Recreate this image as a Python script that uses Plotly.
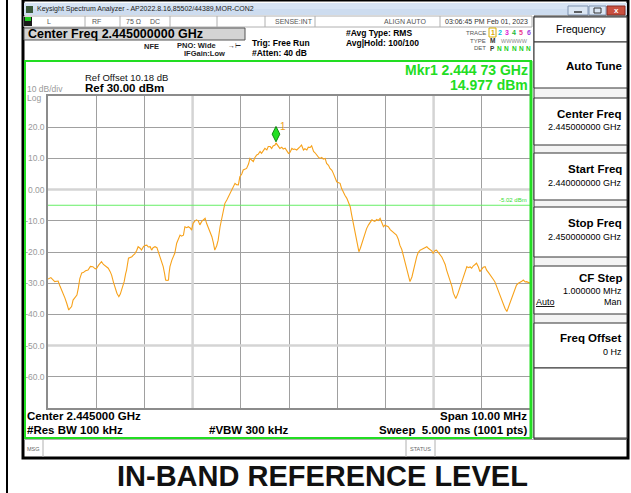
import plotly.graph_objects as go

W, H = 631, 493
FONT = "Liberation Sans, Arial, sans-serif"

# ---------------- data ----------------
start_mhz = 2440.0
stop_mhz = 2450.0
ref_level_dbm = 30.0
bottom_level_dbm = -70.0
display_line_dbm = -5.02
mkr_freq_mhz = 2444.73
mkr_level_dbm = 14.977

offset_mhz = [
    0.00, 0.06, 0.14, 0.21, 0.25, 0.31, 0.35, 0.39, 0.43, 0.46,
    0.49, 0.52, 0.56, 0.60, 0.63, 0.66, 0.70, 0.73, 0.78, 0.83,
    0.88, 0.93, 0.98, 1.01, 1.05, 1.08, 1.11, 1.15, 1.18, 1.22,
    1.25, 1.29, 1.32, 1.36, 1.39, 1.43, 1.45, 1.47, 1.50, 1.53,
    1.56, 1.58, 1.61, 1.63, 1.67, 1.70, 1.74, 1.77, 1.80, 1.84,
    1.87, 1.91, 1.94, 1.98, 2.01, 2.05, 2.08, 2.12, 2.15, 2.18,
    2.22, 2.26, 2.29, 2.32, 2.36, 2.39, 2.42, 2.44, 2.47, 2.50,
    2.51, 2.53, 2.57, 2.60, 2.63, 2.67, 2.70, 2.74, 2.77, 2.81,
    2.84, 2.88, 2.91, 2.95, 2.98, 3.01, 3.05, 3.08, 3.12, 3.15,
    3.19, 3.22, 3.26, 3.29, 3.33, 3.36, 3.40, 3.43, 3.46, 3.50,
    3.53, 3.57, 3.60, 3.62, 3.65, 3.67, 3.71, 3.74, 3.78, 3.81,
    3.84, 3.88, 3.91, 3.95, 3.98, 4.02, 4.05, 4.09, 4.12, 4.16,
    4.19, 4.23, 4.26, 4.29, 4.33, 4.36, 4.40, 4.43, 4.47, 4.50,
    4.54, 4.57, 4.61, 4.64, 4.67, 4.71, 4.73, 4.78, 4.81, 4.85,
    4.88, 4.92, 4.95, 4.99, 5.02, 5.06, 5.09, 5.12, 5.16, 5.19,
    5.23, 5.26, 5.30, 5.33, 5.37, 5.40, 5.44, 5.47, 5.51, 5.54,
    5.57, 5.61, 5.64, 5.68, 5.71, 5.75, 5.78, 5.82, 5.85, 5.89,
    5.92, 5.95, 5.99, 6.02, 6.06, 6.09, 6.13, 6.16, 6.20, 6.23,
    6.27, 6.30, 6.33, 6.35, 6.38, 6.40, 6.43, 6.45, 6.48, 6.51,
    6.54, 6.58, 6.61, 6.65, 6.68, 6.72, 6.75, 6.78, 6.82, 6.85,
    6.89, 6.92, 6.96, 6.99, 7.03, 7.06, 7.10, 7.13, 7.16, 7.20,
    7.23, 7.27, 7.30, 7.34, 7.37, 7.41, 7.44, 7.48, 7.51, 7.55,
    7.58, 7.61, 7.65, 7.68, 7.72, 7.75, 7.79, 7.82, 7.86, 7.89,
    7.93, 7.96, 7.99, 8.03, 8.06, 8.10, 8.13, 8.17, 8.20, 8.24,
    8.27, 8.31, 8.34, 8.38, 8.41, 8.44, 8.46, 8.50, 8.53, 8.55,
    8.59, 8.62, 8.65, 8.69, 8.72, 8.76, 8.79, 8.82, 8.86, 8.89,
    8.93, 8.96, 9.00, 9.03, 9.07, 9.10, 9.14, 9.17, 9.21, 9.24,
    9.27, 9.31, 9.34, 9.38, 9.41, 9.45, 9.48, 9.52, 9.55, 9.58,
    9.62, 9.65, 9.69, 9.72, 9.76, 9.79, 9.83, 9.86, 9.90, 9.93,
    9.97, 10.00,
]
level_dbm = [
    -28.7, -28.2, -29.5, -29.3, -31.0, -33.0, -34.7, -36.5, -38.6, -38.0,
    -37.5, -35.4, -34.6, -33.8, -31.5, -28.5, -26.7, -26.6, -26.0, -25.8,
    -24.6, -24.7, -25.4, -25.2, -24.2, -23.5, -23.1, -24.0, -24.4, -25.0,
    -25.2, -26.3, -27.4, -29.8, -31.5, -33.2, -33.8, -34.3, -33.5, -32.2,
    -30.8, -29.5, -27.0, -25.8, -22.0, -21.8, -21.5, -21.0, -20.6, -19.5,
    -18.3, -18.8, -19.4, -18.3, -17.9, -17.8, -18.4, -18.3, -19.4, -18.6,
    -18.3, -18.6, -20.0, -21.5, -23.0, -24.7, -27.0, -29.0, -29.1, -29.0,
    -27.0, -24.7, -22.6, -21.5, -20.4, -17.2, -15.8, -14.6, -14.9, -14.6,
    -11.9, -12.2, -11.9, -12.3, -13.0, -10.8, -10.0, -9.7, -10.1, -11.3,
    -10.2, -9.7, -9.2, -10.8, -12.4, -13.8, -15.1, -17.0, -19.4, -18.0,
    -16.2, -11.9, -9.5, -7.6, -5.0, -4.4, -3.3, -2.3, -1.2, -0.1,
    0.8, 2.0, 1.6, 1.5, 4.1, 5.0, 6.3, 6.5, 6.8, 8.2,
    10.0, 9.4, 9.0, 10.2, 11.1, 11.3, 12.2, 11.6, 12.8, 13.2,
    12.7, 13.8, 13.8, 13.2, 14.0, 14.3, 14.98, 13.8, 13.2, 13.6,
    13.0, 13.3, 12.6, 11.6, 11.9, 13.2, 12.9, 13.0, 12.7, 13.3,
    13.8, 14.3, 12.7, 13.1, 12.7, 13.6, 13.5, 14.0, 12.2, 11.8,
    11.1, 10.4, 10.0, 10.3, 9.8, 10.0, 8.4, 7.8, 6.8, 6.2,
    5.2, 4.0, 2.5, 2.3, 2.0, 0.4, -1.2, -1.8, -2.8, -4.0,
    -5.5, -8.1, -10.5, -11.9, -14.0, -16.2, -18.5, -19.9, -18.8, -17.2,
    -15.5, -13.5, -12.5, -11.3, -10.5, -9.7, -10.0, -10.2, -9.6, -9.9,
    -9.2, -10.5, -11.9, -11.4, -11.6, -11.9, -12.8, -13.2, -13.5, -14.2,
    -14.6, -16.0, -17.8, -19.2, -21.0, -23.2, -25.8, -27.8, -29.5, -28.0,
    -25.8, -23.5, -21.5, -20.2, -19.4, -19.2, -18.8, -18.6, -18.3, -18.8,
    -19.4, -19.6, -20.4, -19.5, -19.4, -20.2, -21.0, -21.6, -22.6, -24.0,
    -25.8, -27.5, -29.0, -31.0, -33.2, -34.2, -34.9, -33.5, -32.0, -31.1,
    -29.6, -27.9, -26.0, -24.7, -25.0, -24.8, -25.2, -24.5, -24.0, -23.6,
    -24.8, -26.3, -25.5, -24.9, -24.7, -25.8, -26.6, -27.4, -28.0, -28.8,
    -29.5, -31.1, -32.5, -33.8, -35.4, -36.8, -38.0, -39.1, -37.8, -36.5,
    -35.0, -33.2, -31.8, -30.6, -30.0, -29.8, -29.4, -29.0, -29.6, -29.5,
    -29.8, -30.0,
]
freq_mhz = [start_mhz + o for o in offset_mhz]

ytick_vals = [20, 10, 0, -10, -20, -30, -40, -50, -60]
ytick_text = ["20.0", "10.0", "0.00", "-10.0", "-20.0", "-30.0", "-40.0", "-50.0", "-60.0"]
light_grid_freqs = [2443, 2448]
light_grid_levels = [0, -50]

softkeys = [
    ("Center Freq", "2.445000000 GHz"),
    ("Start Freq", "2.440000000 GHz"),
    ("Stop Freq", "2.450000000 GHz"),
]

# ---------------- helpers ----------------
def X(px):
    return px / W


def Y(py):
    return 1 - py / H


shapes = []
annots = []


def rect(x0, y0, x1, y1, fill=None, line=None, width=1, layer="below"):
    shapes.append(dict(type="rect", xref="paper", yref="paper",
                       x0=X(x0), x1=X(x1), y0=Y(y1), y1=Y(y0),
                       fillcolor=fill if fill else "rgba(0,0,0,0)",
                       line=dict(color=line if line else "rgba(0,0,0,0)", width=width if line else 0),
                       layer=layer))


def hline(x0, x1, y, color, width=1, layer="below"):
    shapes.append(dict(type="line", xref="paper", yref="paper", x0=X(x0), x1=X(x1),
                       y0=Y(y), y1=Y(y), line=dict(color=color, width=width), layer=layer))


def vline(x, y0, y1, color, width=1, layer="below"):
    shapes.append(dict(type="line", xref="paper", yref="paper", x0=X(x), x1=X(x),
                       y0=Y(y0), y1=Y(y1), line=dict(color=color, width=width), layer=layer))


def text(x, y, s, size=9, color="#000000", bold=False, anchor="left"):
    annots.append(dict(xref="paper", yref="paper", x=X(x), y=Y(y), text=("<b>%s</b>" % s) if bold else s,
                       showarrow=False, xanchor=anchor, yanchor="middle", borderpad=0,
                       font=dict(family=FONT, size=size, color=color)))


# ---------------- frame / chrome ----------------
vline(7, 0, H, "#000000", 2)
rect(23, 0, 628, 458, fill="#ffffff", line="#000000", width=3)

# title bar
rect(24, 3, 627, 15, fill="#d7e4f4")
rect(24, 9, 627, 15, fill="#cddcef")
rect(26, 6, 33, 13, fill="#3a5a3a")
text(36, 9.5, "Keysight Spectrum Analyzer - AP2022.8.16,85502/44389,MOR-CON2", 7, "#222222")
rect(568, 6, 588, 15, fill="#dbe6f3", line="#7f93b0", width=1)
hline(574, 582, 12, "#333333", 1.5)
rect(589, 6, 606, 15, fill="#dbe6f3", line="#7f93b0", width=1)
rect(594, 8, 601, 13, line="#333333", width=1)
rect(607, 6, 625, 15, fill="#c9503f", line="#8a2f25", width=1)
text(616, 10.5, "x", 8, "#ffffff", True, "center")

# status row
rect(24, 16, 532, 27, fill="#ffffff", line="#b0b0b0", width=1)
rect(24, 17, 32, 26, fill="#1a1a1a")
rect(25, 17, 31, 21, fill="#22cc22")
for xd in [85, 120, 170, 217, 265, 315, 440]:
    vline(xd, 16, 27, "#b0b0b0", 1)
text(49, 21.7, "L", 7, "#555555", False, "center")
text(97, 21.7, "RF", 7, "#555555", False, "center")
text(133, 21.7, "75 Ω", 7, "#555555", False, "center")
text(155, 21.7, "DC", 7, "#555555", False, "center")
text(294, 21.7, "SENSE:INT", 7, "#555555", False, "center")
text(405, 21.7, "ALIGN AUTO", 7, "#555555", False, "center")
text(486, 21.7, "03:06:45 PM Feb 01, 2023", 7, "#333333", False, "center")

# center freq box
rect(24, 28, 245, 40, fill="#d4d4d4", line="#555555", width=1)
text(27, 34, "Center Freq 2.445000000 GHz", 12.5, "#000000", True, "left")

text(143, 46.7, "NFE", 7.5, "#222222", True, "left")
text(176, 46, "PNO: Wide", 7.5, "#222222", True, "left")
text(234, 46, "→⊢", 7, "#222222", False, "center")
text(183, 54, "IFGain:Low", 7.5, "#222222", True, "left")
text(251, 43, "Trig: Free Run", 8.5, "#000000", True, "left")
text(251, 52.7, "#Atten: 40 dB", 8.5, "#000000", True, "left")
text(345, 32.7, "#Avg Type: RMS", 8.5, "#000000", True, "left")
text(345, 43, "Avg|Hold: 100/100", 8.5, "#000000", True, "left")

# trace info block
text(487, 33, "TRACE", 6, "#555555", False, "right")
text(487, 40.5, "TYPE", 6, "#555555", False, "right")
text(487, 48, "DET", 6, "#555555", False, "right")
rect(489, 28, 496, 37, line="#d8b000", width=1)
trace_nums = [("1", "#d8a800"), ("2", "#00c0dd"), ("3", "#e020d8"), ("4", "#20b838"), ("5", "#ee3a8a"), ("6", "#9a40e0")]
for i, (n, c) in enumerate(trace_nums):
    text(492.5 + i * 7.2, 33, n, 7, c, True, "center")
text(492.5, 40.5, "M", 6.5, "#333333", True, "center")
text(514, 40.5, "WWWWW", 5.5, "#888888", False, "center")
text(492.5, 48, "P", 6.5, "#333333", True, "center")
for i in range(1, 6):
    text(492.5 + i * 7.2, 48, "N", 6.5, "#22cc22", True, "center")

# green measurement frame
rect(25, 61, 531, 438, line="#22dd22", width=2, layer="above")
vline(531, 61, 438, "#22dd22", 3, "above")

# ref / marker texts
text(84, 77.3, "Ref Offset 10.18 dB", 9.5, "#111111", False, "left")
text(84, 88.3, "Ref 30.00 dBm", 11.5, "#000000", True, "left")
text(26, 88.5, "10 dB/div", 8.5, "#999999", False, "left")
text(26, 97.5, "Log", 8.5, "#999999", False, "left")
text(529, 70, "Mkr1 2.444 73 GHz", 14, "#22dd22", True, "right")
text(529, 85, "14.977 dBm", 14, "#22dd22", True, "right")

# bottom texts
text(26, 416, "Center 2.445000 GHz", 11.5, "#000000", True, "left")
text(26, 429.5, "#Res BW 100 kHz", 11.5, "#000000", True, "left")
text(208, 429.5, "#VBW 300 kHz", 11.5, "#000000", True, "left")
text(528, 416, "Span 10.00 MHz", 11.5, "#000000", True, "right")
text(528, 429.5, "Sweep  5.000 ms (1001 pts)", 11.5, "#000000", True, "right")

# msg row
hline(24, 627, 439.5, "#b0b0b0", 1)
vline(43, 440, 457, "#b0b0b0", 1)
vline(406, 440, 457, "#b0b0b0", 1)
vline(435, 440, 457, "#b0b0b0", 1)
text(33, 448.5, "MSG", 5.5, "#666666", False, "center")
text(420.5, 448.5, "STATUS", 5.5, "#666666", False, "center")

# right softkey panel
rect(534, 16, 627, 439, fill="#f4f4f4", line="#333333", width=1)
rect(534, 17, 627, 42, fill="#ffffff", line="#333333", width=1)
text(581, 29, "Frequency", 10.5, "#000000", False, "center")
rect(534, 42, 627, 88, fill="#ffffff", line="#333333", width=1)
text(623, 66, "Auto Tune", 11.5, "#000000", True, "right")
box_tops = [98, 153, 207]
box_bots = [145, 200, 257]
for (ttl, val), t0, t1 in zip(softkeys, box_tops, box_bots):
    rect(534, t0, 627, t1, fill="#ffffff", line="#333333", width=1)
    text(623, t0 + 16, ttl, 11.5, "#000000", True, "right")
    text(623, t0 + 29.5, val, 9, "#000000", False, "right")
rect(534, 266, 627, 314, fill="#ffffff", line="#333333", width=1)
text(623, 278, "CF Step", 11.5, "#000000", True, "right")
text(623, 291, "1.000000 MHz", 9, "#000000", False, "right")
text(535, 302, "<u>Auto</u>", 9, "#000000", False, "left")
text(623, 302, "Man", 9, "#000000", False, "right")
rect(534, 323, 627, 368, fill="#ffffff", line="#333333", width=1)
text(623, 338, "Freq Offset", 11.5, "#000000", True, "right")
text(623, 352, "0 Hz", 9, "#000000", False, "right")
rect(534, 368, 627, 438, fill="#ffffff", line="#333333", width=1)

# display line label
text(528, 200, "-5.02 dBm", 6, "#33dd33", False, "right")

# page caption
text(322, 476, "IN-BAND REFERENCE LEVEL", 29, "#111111", True, "center")

# lighter grid lines (between grid and trace)
for f in light_grid_freqs:
    shapes.append(dict(type="line", xref="x", yref="y", x0=f, x1=f, y0=bottom_level_dbm, y1=ref_level_dbm,
                       line=dict(color="#d4d4d4", width=2.5), layer="between"))
for lv in light_grid_levels:
    shapes.append(dict(type="line", xref="x", yref="y", x0=start_mhz, x1=stop_mhz, y0=lv, y1=lv,
                       line=dict(color="#d4d4d4", width=2.5), layer="between"))
# display line
shapes.append(dict(type="line", xref="x", yref="y", x0=start_mhz, x1=stop_mhz, y0=display_line_dbm,
                   y1=display_line_dbm, line=dict(color="#66ee66", width=1), layer="between"))

# ---------------- figure ----------------
fig = go.Figure()
fig.add_trace(go.Scatter(x=freq_mhz, y=level_dbm, mode="lines",
                         line=dict(color="#f7a21b", width=1.1), hoverinfo="skip", showlegend=False))
mkr_offset_db = 2.8
fig.add_trace(go.Scatter(x=[mkr_freq_mhz], y=[mkr_level_dbm + mkr_offset_db], mode="markers",
                         marker=dict(symbol="diamond-tall", size=11, color="#22e022",
                                     line=dict(color="#128a12", width=1)),
                         hoverinfo="skip", showlegend=False))
annots.append(dict(xref="x", yref="y", x=mkr_freq_mhz, y=mkr_level_dbm, text="1", showarrow=False,
                   xshift=7.5, yshift=16, font=dict(family=FONT, size=10, color="#f0a020")))

fig.update_layout(
    width=W, height=H, autosize=False,
    margin=dict(l=0, r=0, t=0, b=0, pad=0),
    paper_bgcolor="#ffffff", plot_bgcolor="rgba(0,0,0,0)",
    shapes=shapes, annotations=annots, showlegend=False,
    xaxis=dict(domain=[X(48), X(530)], range=[start_mhz, stop_mhz], dtick=1, tick0=start_mhz,
               showgrid=True, gridcolor="#a0a0a0", gridwidth=1, zeroline=False,
               showticklabels=False, ticks="", showline=True, linecolor="#8c8c8c", linewidth=1.5, mirror=True),
    yaxis=dict(domain=[Y(408), Y(96)], range=[bottom_level_dbm, ref_level_dbm],
               tickvals=ytick_vals, ticktext=ytick_text,
               showgrid=True, gridcolor="#a0a0a0", gridwidth=1, zeroline=False,
               ticks="", tickfont=dict(family=FONT, size=8.5, color="#9a9a9a"),
               showline=True, linecolor="#8c8c8c", linewidth=1.5, mirror=True),
)

fig.write_html("out.html", config={"displayModeBar": False},
               post_script="document.body.style.margin='0';document.body.style.overflow='hidden';")
